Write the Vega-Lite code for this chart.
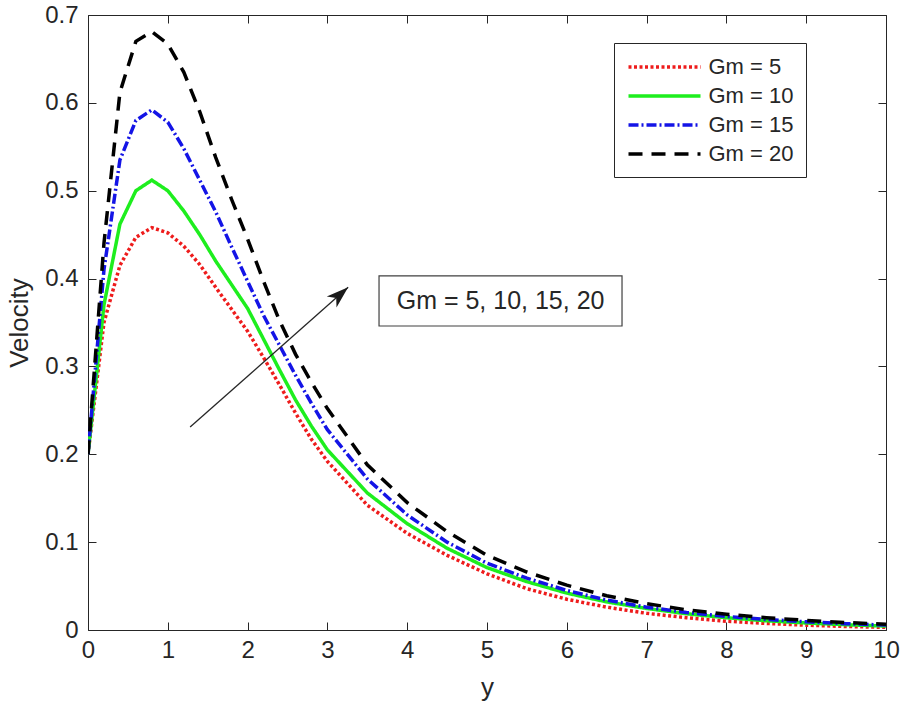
{
  "$schema": "https://vega.github.io/schema/vega-lite/v6.json",
  "width": 798,
  "height": 615,
  "autosize": "none",
  "padding": {"left": 88, "top": 15, "right": 20, "bottom": 79},
  "background": "white",
  "config": {
    "font": "Liberation Sans",
    "view": {"stroke": "#262626", "strokeWidth": 1},
    "axis": {
      "domain": false,
      "grid": false,
      "tickColor": "#262626",
      "tickSize": -8,
      "labelColor": "#262626",
      "labelFont": "Liberation Sans",
      "labelFontSize": 24,
      "labelFlush": false,
      "labelOverlap": false,
      "titleFont": "Liberation Sans",
      "titleFontSize": 26,
      "titleFontWeight": "normal",
      "titleColor": "#262626"
    },
    "legend": {
      "labelFont": "Liberation Sans",
      "labelFontSize": 22,
      "labelColor": "#262626",
      "strokeColor": "#262626",
      "fillColor": "white",
      "padding": 12,
      "rowPadding": 6,
      "symbolType": "M-3.6,0H3.6",
      "symbolSize": 400,
      "symbolStrokeWidth": 3.5,
      "symbolOffset": 26.5,
      "labelOffset": 32
    }
  },
  "datasets": {
    "curves": [
      {"y": 0, "velocity": 0.2, "Gm": "Gm = 5"},
      {"y": 0.2, "velocity": 0.35, "Gm": "Gm = 5"},
      {"y": 0.4, "velocity": 0.415, "Gm": "Gm = 5"},
      {"y": 0.6, "velocity": 0.447, "Gm": "Gm = 5"},
      {"y": 0.8, "velocity": 0.458, "Gm": "Gm = 5"},
      {"y": 1.0, "velocity": 0.452, "Gm": "Gm = 5"},
      {"y": 1.2, "velocity": 0.437, "Gm": "Gm = 5"},
      {"y": 1.4, "velocity": 0.416, "Gm": "Gm = 5"},
      {"y": 1.6, "velocity": 0.39, "Gm": "Gm = 5"},
      {"y": 1.8, "velocity": 0.365, "Gm": "Gm = 5"},
      {"y": 2.0, "velocity": 0.34, "Gm": "Gm = 5"},
      {"y": 2.2, "velocity": 0.31, "Gm": "Gm = 5"},
      {"y": 2.4, "velocity": 0.279, "Gm": "Gm = 5"},
      {"y": 2.6, "velocity": 0.247, "Gm": "Gm = 5"},
      {"y": 2.8, "velocity": 0.217, "Gm": "Gm = 5"},
      {"y": 3.0, "velocity": 0.192, "Gm": "Gm = 5"},
      {"y": 3.5, "velocity": 0.142, "Gm": "Gm = 5"},
      {"y": 4.0, "velocity": 0.11, "Gm": "Gm = 5"},
      {"y": 4.5, "velocity": 0.085, "Gm": "Gm = 5"},
      {"y": 5.0, "velocity": 0.064, "Gm": "Gm = 5"},
      {"y": 5.5, "velocity": 0.047, "Gm": "Gm = 5"},
      {"y": 6.0, "velocity": 0.035, "Gm": "Gm = 5"},
      {"y": 6.5, "velocity": 0.026, "Gm": "Gm = 5"},
      {"y": 7.0, "velocity": 0.019, "Gm": "Gm = 5"},
      {"y": 7.5, "velocity": 0.014, "Gm": "Gm = 5"},
      {"y": 8.0, "velocity": 0.01, "Gm": "Gm = 5"},
      {"y": 8.5, "velocity": 0.0075, "Gm": "Gm = 5"},
      {"y": 9.0, "velocity": 0.0055, "Gm": "Gm = 5"},
      {"y": 9.5, "velocity": 0.004, "Gm": "Gm = 5"},
      {"y": 10, "velocity": 0.003, "Gm": "Gm = 5"},
      {"y": 0, "velocity": 0.2, "Gm": "Gm = 10"},
      {"y": 0.2, "velocity": 0.37, "Gm": "Gm = 10"},
      {"y": 0.4, "velocity": 0.462, "Gm": "Gm = 10"},
      {"y": 0.6, "velocity": 0.5, "Gm": "Gm = 10"},
      {"y": 0.8, "velocity": 0.512, "Gm": "Gm = 10"},
      {"y": 1.0, "velocity": 0.5, "Gm": "Gm = 10"},
      {"y": 1.2, "velocity": 0.477, "Gm": "Gm = 10"},
      {"y": 1.4, "velocity": 0.45, "Gm": "Gm = 10"},
      {"y": 1.6, "velocity": 0.42, "Gm": "Gm = 10"},
      {"y": 1.8, "velocity": 0.393, "Gm": "Gm = 10"},
      {"y": 2.0, "velocity": 0.366, "Gm": "Gm = 10"},
      {"y": 2.2, "velocity": 0.331, "Gm": "Gm = 10"},
      {"y": 2.4, "velocity": 0.296, "Gm": "Gm = 10"},
      {"y": 2.6, "velocity": 0.262, "Gm": "Gm = 10"},
      {"y": 2.8, "velocity": 0.232, "Gm": "Gm = 10"},
      {"y": 3.0, "velocity": 0.205, "Gm": "Gm = 10"},
      {"y": 3.5, "velocity": 0.156, "Gm": "Gm = 10"},
      {"y": 4.0, "velocity": 0.121, "Gm": "Gm = 10"},
      {"y": 4.5, "velocity": 0.093, "Gm": "Gm = 10"},
      {"y": 5.0, "velocity": 0.071, "Gm": "Gm = 10"},
      {"y": 5.5, "velocity": 0.055, "Gm": "Gm = 10"},
      {"y": 6.0, "velocity": 0.042, "Gm": "Gm = 10"},
      {"y": 6.5, "velocity": 0.032, "Gm": "Gm = 10"},
      {"y": 7.0, "velocity": 0.0245, "Gm": "Gm = 10"},
      {"y": 7.5, "velocity": 0.0185, "Gm": "Gm = 10"},
      {"y": 8.0, "velocity": 0.014, "Gm": "Gm = 10"},
      {"y": 8.5, "velocity": 0.0105, "Gm": "Gm = 10"},
      {"y": 9.0, "velocity": 0.008, "Gm": "Gm = 10"},
      {"y": 9.5, "velocity": 0.006, "Gm": "Gm = 10"},
      {"y": 10, "velocity": 0.0045, "Gm": "Gm = 10"},
      {"y": 0, "velocity": 0.2, "Gm": "Gm = 15"},
      {"y": 0.2, "velocity": 0.41, "Gm": "Gm = 15"},
      {"y": 0.4, "velocity": 0.535, "Gm": "Gm = 15"},
      {"y": 0.6, "velocity": 0.58, "Gm": "Gm = 15"},
      {"y": 0.8, "velocity": 0.592, "Gm": "Gm = 15"},
      {"y": 1.0, "velocity": 0.578, "Gm": "Gm = 15"},
      {"y": 1.2, "velocity": 0.548, "Gm": "Gm = 15"},
      {"y": 1.4, "velocity": 0.512, "Gm": "Gm = 15"},
      {"y": 1.6, "velocity": 0.476, "Gm": "Gm = 15"},
      {"y": 1.8, "velocity": 0.436, "Gm": "Gm = 15"},
      {"y": 2.0, "velocity": 0.397, "Gm": "Gm = 15"},
      {"y": 2.2, "velocity": 0.358, "Gm": "Gm = 15"},
      {"y": 2.4, "velocity": 0.324, "Gm": "Gm = 15"},
      {"y": 2.6, "velocity": 0.29, "Gm": "Gm = 15"},
      {"y": 2.8, "velocity": 0.258, "Gm": "Gm = 15"},
      {"y": 3.0, "velocity": 0.228, "Gm": "Gm = 15"},
      {"y": 3.5, "velocity": 0.172, "Gm": "Gm = 15"},
      {"y": 4.0, "velocity": 0.131, "Gm": "Gm = 15"},
      {"y": 4.5, "velocity": 0.1, "Gm": "Gm = 15"},
      {"y": 5.0, "velocity": 0.076, "Gm": "Gm = 15"},
      {"y": 5.5, "velocity": 0.059, "Gm": "Gm = 15"},
      {"y": 6.0, "velocity": 0.045, "Gm": "Gm = 15"},
      {"y": 6.5, "velocity": 0.034, "Gm": "Gm = 15"},
      {"y": 7.0, "velocity": 0.026, "Gm": "Gm = 15"},
      {"y": 7.5, "velocity": 0.02, "Gm": "Gm = 15"},
      {"y": 8.0, "velocity": 0.0155, "Gm": "Gm = 15"},
      {"y": 8.5, "velocity": 0.012, "Gm": "Gm = 15"},
      {"y": 9.0, "velocity": 0.0093, "Gm": "Gm = 15"},
      {"y": 9.5, "velocity": 0.0072, "Gm": "Gm = 15"},
      {"y": 10, "velocity": 0.0056, "Gm": "Gm = 15"},
      {"y": 0, "velocity": 0.2, "Gm": "Gm = 20"},
      {"y": 0.2, "velocity": 0.44, "Gm": "Gm = 20"},
      {"y": 0.4, "velocity": 0.612, "Gm": "Gm = 20"},
      {"y": 0.6, "velocity": 0.67, "Gm": "Gm = 20"},
      {"y": 0.8, "velocity": 0.681, "Gm": "Gm = 20"},
      {"y": 1.0, "velocity": 0.667, "Gm": "Gm = 20"},
      {"y": 1.2, "velocity": 0.635, "Gm": "Gm = 20"},
      {"y": 1.4, "velocity": 0.59, "Gm": "Gm = 20"},
      {"y": 1.6, "velocity": 0.538, "Gm": "Gm = 20"},
      {"y": 1.8, "velocity": 0.49, "Gm": "Gm = 20"},
      {"y": 2.0, "velocity": 0.445, "Gm": "Gm = 20"},
      {"y": 2.2, "velocity": 0.397, "Gm": "Gm = 20"},
      {"y": 2.4, "velocity": 0.352, "Gm": "Gm = 20"},
      {"y": 2.6, "velocity": 0.314, "Gm": "Gm = 20"},
      {"y": 2.8, "velocity": 0.282, "Gm": "Gm = 20"},
      {"y": 3.0, "velocity": 0.252, "Gm": "Gm = 20"},
      {"y": 3.5, "velocity": 0.188, "Gm": "Gm = 20"},
      {"y": 4.0, "velocity": 0.145, "Gm": "Gm = 20"},
      {"y": 4.5, "velocity": 0.112, "Gm": "Gm = 20"},
      {"y": 5.0, "velocity": 0.085, "Gm": "Gm = 20"},
      {"y": 5.5, "velocity": 0.066, "Gm": "Gm = 20"},
      {"y": 6.0, "velocity": 0.051, "Gm": "Gm = 20"},
      {"y": 6.5, "velocity": 0.039, "Gm": "Gm = 20"},
      {"y": 7.0, "velocity": 0.03, "Gm": "Gm = 20"},
      {"y": 7.5, "velocity": 0.023, "Gm": "Gm = 20"},
      {"y": 8.0, "velocity": 0.018, "Gm": "Gm = 20"},
      {"y": 8.5, "velocity": 0.014, "Gm": "Gm = 20"},
      {"y": 9.0, "velocity": 0.011, "Gm": "Gm = 20"},
      {"y": 9.5, "velocity": 0.0085, "Gm": "Gm = 20"},
      {"y": 10, "velocity": 0.0065, "Gm": "Gm = 20"}
    ],
    "arrow": [{"y0": 1.28, "v0": 0.231, "y1": 3.26, "v1": 0.39}],
    "note": [{"x0": 3.647, "x1": 6.692, "v0": 0.346, "v1": 0.403, "xc": 5.17, "vc": 0.3745, "label": "Gm = 5, 10, 15, 20"}]
  },
  "layer": [
    {
      "data": {"name": "curves"},
      "mark": {"type": "line", "strokeWidth": 3.5, "clip": true},
      "encoding": {
        "x": {
          "field": "y", "type": "quantitative",
          "scale": {"domain": [0, 10], "nice": false},
          "axis": {"values": [0, 1, 2, 3, 4, 5, 6, 7, 8, 9, 10], "title": "y", "labelPadding": 16, "titlePadding": 12}
        },
        "y": {
          "field": "velocity", "type": "quantitative",
          "scale": {"domain": [0, 0.7], "nice": false, "zero": false},
          "axis": {"values": [0, 0.1, 0.2, 0.3, 0.4, 0.5, 0.6, 0.7], "format": "~g", "title": "Velocity", "labelPadding": 18, "titlePadding": 12}
        },
        "color": {
          "field": "Gm", "type": "nominal",
          "scale": {"domain": ["Gm = 5", "Gm = 10", "Gm = 15", "Gm = 20"], "range": ["#ee1c1c", "#1eee1e", "#1414e6", "#000000"]},
          "legend": {"title": null, "orient": "none", "legendX": 526, "legendY": 28}
        },
        "strokeDash": {
          "field": "Gm", "type": "nominal",
          "scale": {"domain": ["Gm = 5", "Gm = 10", "Gm = 15", "Gm = 20"], "range": [[3, 2.5], [1, 0], [10, 3, 2, 3], [14, 9]]},
          "legend": {"title": null, "orient": "none", "legendX": 526, "legendY": 28}
        }
      }
    },
    {
      "data": {"name": "arrow"},
      "mark": {"type": "rule", "color": "#262626", "strokeWidth": 1.3},
      "encoding": {
        "x": {"field": "y0", "type": "quantitative", "axis": {"orient": "top", "labels": false, "title": null, "values": [0, 1, 2, 3, 4, 5, 6, 7, 8, 9, 10]}},
        "y": {"field": "v0", "type": "quantitative", "axis": {"orient": "right", "labels": false, "title": null, "values": [0, 0.1, 0.2, 0.3, 0.4, 0.5, 0.6, 0.7]}},
        "x2": {"field": "y1"},
        "y2": {"field": "v1"}
      }
    },
    {
      "data": {"name": "arrow"},
      "mark": {"type": "point", "shape": "M0,0L0.6,1.8L0,1.3L-0.6,1.8Z", "angle": 48.5, "size": 600, "filled": true, "color": "#1a1a1a", "opacity": 1},
      "encoding": {
        "x": {"field": "y1", "type": "quantitative", "axis": null},
        "y": {"field": "v1", "type": "quantitative", "axis": null}
      }
    },
    {
      "data": {"name": "note"},
      "mark": {"type": "rect", "fill": "white", "stroke": "#404040", "strokeWidth": 1.2},
      "encoding": {
        "x": {"field": "x0", "type": "quantitative", "axis": null},
        "x2": {"field": "x1"},
        "y": {"field": "v0", "type": "quantitative", "axis": null},
        "y2": {"field": "v1"}
      }
    },
    {
      "data": {"name": "note"},
      "mark": {"type": "text", "fontSize": 25, "color": "#262626", "align": "center", "baseline": "middle"},
      "encoding": {
        "x": {"field": "xc", "type": "quantitative", "axis": null},
        "y": {"field": "vc", "type": "quantitative", "axis": null},
        "text": {"field": "label"}
      }
    }
  ],
  "resolve": {"axis": {"x": "independent", "y": "independent"}}
}
